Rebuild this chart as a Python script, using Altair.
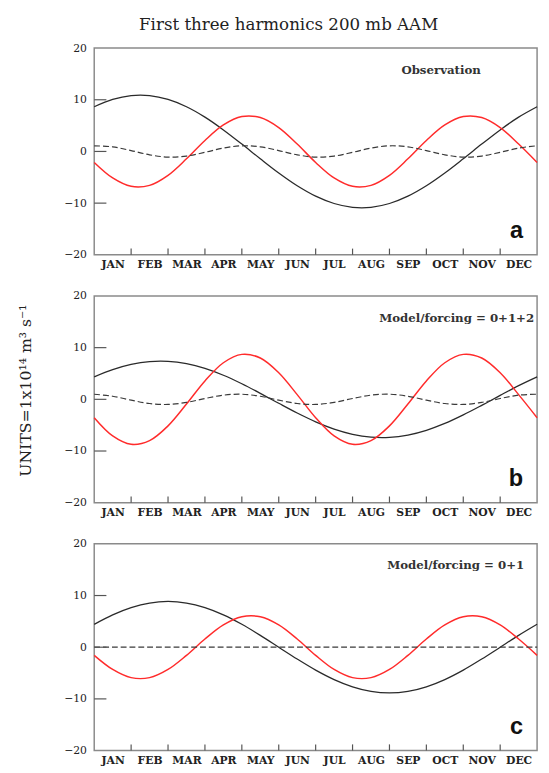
import altair as alt
import pandas as pd

# ---- data ----
months = [0.0, 0.5, 1.0, 1.5, 2.0, 2.5, 3.0, 3.5, 4.0, 4.5, 5.0, 5.5, 6.0,
          6.5, 7.0, 7.5, 8.0, 8.5, 9.0, 9.5, 10.0, 10.5, 11.0, 11.5, 12.0]
month_names = ["JAN", "FEB", "MAR", "APR", "MAY", "JUN",
               "JUL", "AUG", "SEP", "OCT", "NOV", "DEC"]
y_ticks = [-20, -10, 0, 10, 20]

# panel a: Observation
obs_annual = [8.65, 10.07, 10.81, 10.81, 10.07, 8.65, 6.64, 4.17, 1.42, -1.42, -4.17, -6.64, -8.65,
              -10.07, -10.81, -10.81, -10.07, -8.65, -6.64, -4.17, -1.42, 1.42, 4.17, 6.64, 8.65]
obs_semi = [-2.13, -5.13, -6.75, -6.56, -4.62, -1.43, 2.13, 5.13, 6.75, 6.56, 4.62, 1.43, -2.13,
            -5.13, -6.75, -6.56, -4.62, -1.43, 2.13, 5.13, 6.75, 6.56, 4.62, 1.43, -2.13]
obs_third = [1.09, 0.89, 0.17, -0.65, -1.09, -0.89, -0.17, 0.65, 1.09, 0.89, 0.17, -0.65, -1.09,
             -0.89, -0.17, 0.65, 1.09, 0.89, 0.17, -0.65, -1.09, -0.89, -0.17, 0.65, 1.09]

# panel b: Model/forcing = 0+1+2
m012_annual = [4.35, 5.75, 6.76, 7.31, 7.36, 6.91, 5.99, 4.66, 3.01, 1.16, -0.77, -2.65, -4.35,
               -5.75, -6.76, -7.31, -7.36, -6.91, -5.99, -4.66, -3.01, -1.16, 0.77, 2.65, 4.35]
m012_semi = [-3.56, -7.08, -8.70, -7.99, -5.14, -0.91, 3.56, 7.08, 8.70, 7.99, 5.14, 0.91, -3.56,
             -7.08, -8.70, -7.99, -5.14, -0.91, 3.56, 7.08, 8.70, 7.99, 5.14, 0.91, -3.56]
m012_third = [0.99, 0.59, -0.16, -0.81, -0.99, -0.59, 0.16, 0.81, 0.99, 0.59, -0.16, -0.81, -0.99,
              -0.59, 0.16, 0.81, 0.99, 0.59, -0.16, -0.81, -0.99, -0.59, 0.16, 0.81, 0.99]

# panel c: Model/forcing = 0+1
m01_annual = [4.43, 6.26, 7.66, 8.55, 8.85, 8.55, 7.66, 6.26, 4.43, 2.29, 0.0, -2.29, -4.43,
              -6.26, -7.66, -8.55, -8.85, -8.55, -7.66, -6.26, -4.43, -2.29, 0.0, 2.29, 4.43]
m01_semi = [-1.58, -4.31, -5.89, -5.89, -4.31, -1.58, 1.58, 4.31, 5.89, 5.89, 4.31, 1.58, -1.58,
            -4.31, -5.89, -5.89, -4.31, -1.58, 1.58, 4.31, 5.89, 5.89, 4.31, 1.58, -1.58]
m01_third = [0.0, 0.0, 0.0, 0.0, 0.0, 0.0, 0.0, 0.0, 0.0, 0.0, 0.0, 0.0, 0.0,
             0.0, 0.0, 0.0, 0.0, 0.0, 0.0, 0.0, 0.0, 0.0, 0.0, 0.0, 0.0]

SERIF = "DejaVu Serif"
W, H = 452, 211
FRAME = "#8a8a8a"

x_scale = alt.Scale(domain=[0, 12], nice=False, zero=False)
y_scale = alt.Scale(domain=[-20, 20], nice=False, zero=False)
names_js = "[" + ",".join("'%s'" % m for m in month_names) + "]"


def panel(annual, semi, third, label, label_x, label_align, letter, y_title):
    df = pd.DataFrame({"month": months, "annual": annual, "semi": semi, "third": third})
    long = df.melt("month", var_name="series", value_name="value")

    x_axis = alt.Axis(values=[i + 0.5 for i in range(12)],
                      labelExpr=names_js + "[floor(datum.value)]",
                      ticks=False, domain=False, grid=False, labelPadding=4,
                      labelFont=SERIF, labelFontWeight="bold", labelFontSize=11,
                      labelColor="#222", title=None)
    y_axis_kw = dict(values=y_ticks, ticks=False, domain=False, grid=False, labelPadding=8,
                     labelFont=SERIF, labelFontSize=11, labelColor="#222")
    if y_title:
        y_axis = alt.Axis(title=y_title, titleFont=SERIF, titleFontSize=16,
                          titleFontWeight="normal", titleColor="#222", titlePadding=31,
                          titleY=96, **y_axis_kw)
    else:
        y_axis = alt.Axis(title=None, **y_axis_kw)

    base = alt.Chart(long)
    annual_line = base.transform_filter(alt.datum.series == "annual").mark_line(
        color="#2a2a2a", strokeWidth=1.3, interpolate="catmull-rom"
    ).encode(x=alt.X("month:Q", scale=x_scale, axis=x_axis),
             y=alt.Y("value:Q", scale=y_scale, axis=y_axis))
    semi_line = base.transform_filter(alt.datum.series == "semi").mark_line(
        color="#ff2b2b", strokeWidth=1.5, interpolate="catmull-rom"
    ).encode(x="month:Q", y="value:Q")
    third_line = base.transform_filter(alt.datum.series == "third").mark_line(
        color="#3a3a3a", strokeWidth=1.2, strokeDash=[6, 3], interpolate="catmull-rom"
    ).encode(x="month:Q", y="value:Q")

    ytk = alt.Chart(pd.DataFrame({"value": [-10, 0, 10]})).mark_rule(
        color="#555", strokeWidth=1.2
    ).encode(y="value:Q", x=alt.datum(0), x2=alt.datum(0.33))
    xtk = alt.Chart(pd.DataFrame({"month": list(range(1, 12))})).mark_rule(
        color="#555", strokeWidth=1.2
    ).encode(x="month:Q", y=alt.datum(-20), y2=alt.datum(-18.8))

    one = pd.DataFrame({"t": [label], "l": [letter]})
    txt = alt.Chart(one).mark_text(
        font=SERIF, fontSize=12, fontWeight="bold", color="#333",
        align=label_align, baseline="middle"
    ).encode(x=alt.datum(label_x), y=alt.datum(15.8), text="t:N")
    let = alt.Chart(one).mark_text(
        font="Liberation Sans", fontSize=24, fontWeight="bold", color="#111",
        align="right", baseline="alphabetic"
    ).encode(x=alt.datum(11.62), y=alt.datum(-16.7), text="l:N")

    return alt.layer(annual_line, semi_line, third_line, ytk, xtk, txt, let).properties(
        width=W, height=H)


pa = panel(obs_annual, obs_semi, obs_third, "Observation", 9.4, "center", "a", None)
pb = panel(m012_annual, m012_semi, m012_third, "Model/forcing = 0+1+2", 11.92, "right", "b",
           "UNITS=1x10¹⁴  m³  s⁻¹")
pc = panel(m01_annual, m01_semi, m01_third, "Model/forcing = 0+1", 11.65, "right", "c", None)

chart = alt.vconcat(pa, pb, pc, spacing=19).properties(
    title=alt.TitleParams("First three harmonics 200 mb AAM", font=SERIF, fontSize=17,
                          fontWeight="normal", color="#222", anchor="middle", offset=8,
                          dx=10),
    padding={"left": 9, "top": 0, "right": 0, "bottom": 0},
).configure_view(stroke=FRAME, strokeWidth=1.5)

chart.save("out.html", embed_options={"renderer": "svg", "actions": False})
